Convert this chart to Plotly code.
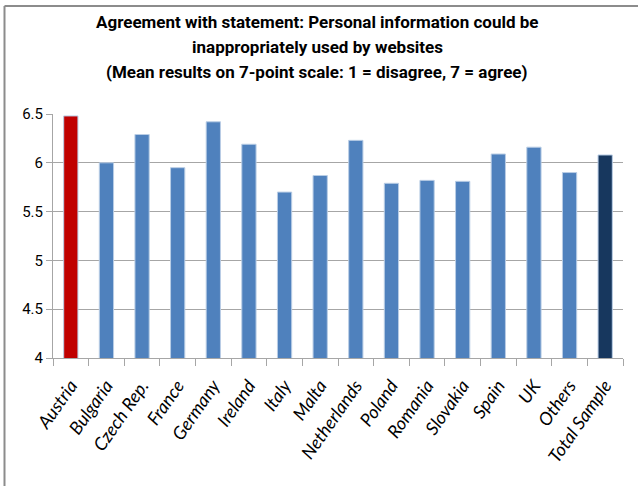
import plotly.graph_objects as go

categories = ["Austria", "Bulgaria", "Czech Rep.", "France", "Germany", "Ireland", "Italy",
              "Malta", "Netherlands", "Poland", "Romania", "Slovakia", "Spain", "UK",
              "Others", "Total Sample"]
values = [6.48, 6.00, 6.29, 5.95, 6.42, 6.19, 5.70, 5.87, 6.23, 5.79, 5.82, 5.81, 6.09, 6.16, 5.90, 6.08]
colors = ["#C00000"] + ["#4F81BD"] * 14 + ["#17375E"]
y_ticks = [4, 4.5, 5, 5.5, 6, 6.5]
y_tick_labels = ["4", "4.5", "5", "5.5", "6", "6.5"]
title_lines = [
    "Agreement with statement: Personal information could be",
    "inappropriately used by websites",
    "(Mean results on 7-point scale: 1 = disagree, 7 = agree)",
]

W, H = 638, 486
ML, MR, MT, MB = 53, 15, 114, 128
pw = W - ML - MR
ph = H - MT - MB

def px_x(px):
    return (px - ML) / pw

def px_y(py):
    return (H - MB - py) / ph

FONT = "Roboto, Liberation Sans, sans-serif"
LABEL_FONT = "Lato, Liberation Sans, sans-serif"

fig = go.Figure(go.Bar(
    x=categories, y=values,
    marker=dict(color=colors, line=dict(color="#B9CDE5", width=1)),
    width=0.4,
))

title_y = [22, 47, 72]
annotations = [
    dict(text="<b>%s</b>" % t, xref="paper", yref="paper",
         x=px_x(317), y=px_y(yy), xanchor="center", yanchor="middle",
         showarrow=False, font=dict(family=FONT, size=17, color="#000000"))
    for t, yy in zip(title_lines, title_y)
]

fig.update_layout(
    width=W, height=H,
    margin=dict(l=ML, r=MR, t=MT, b=MB, autoexpand=False),
    paper_bgcolor="white", plot_bgcolor="white",
    showlegend=False,
    annotations=annotations,
    xaxis=dict(
        type="category",
        tickangle=-55,
        tickvals=categories,
        ticktext=["<i>%s</i>" % c for c in categories],
        tickfont=dict(family=LABEL_FONT, size=18, color="#000000", style="italic"),
        ticklabelstandoff=9,
        showline=True, linecolor="#A6A6A6", linewidth=1,
        ticks="outside", ticklen=7, tickcolor="#A6A6A6", tickson="boundaries",
        showgrid=False, automargin=False,
        range=[-0.5, len(categories) - 0.5],
    ),
    yaxis=dict(
        range=[4, 6.5],
        tickvals=y_ticks, ticktext=y_tick_labels,
        tickfont=dict(family=FONT, size=15, color="#000000"),
        showgrid=True, gridcolor="#A6A6A6", gridwidth=1,
        showline=True, linecolor="#A6A6A6", linewidth=1,
        ticks="outside", ticklen=6, tickcolor="#A6A6A6",
        zeroline=False, automargin=False,
    ),
    shapes=[
        dict(type="line", xref="paper", yref="paper",
             x0=px_x(4.5), x1=px_x(W), y0=px_y(6), y1=px_y(6),
             line=dict(color="#8C8C8C", width=2)),
        dict(type="line", xref="paper", yref="paper",
             x0=px_x(4.5), x1=px_x(4.5), y0=px_y(6), y1=px_y(H),
             line=dict(color="#8C8C8C", width=2)),
    ],
)

fig.write_html(
    "out.html",
    config={"displayModeBar": False},
    post_script="document.body.style.margin='0';document.body.style.padding='0';",
)
